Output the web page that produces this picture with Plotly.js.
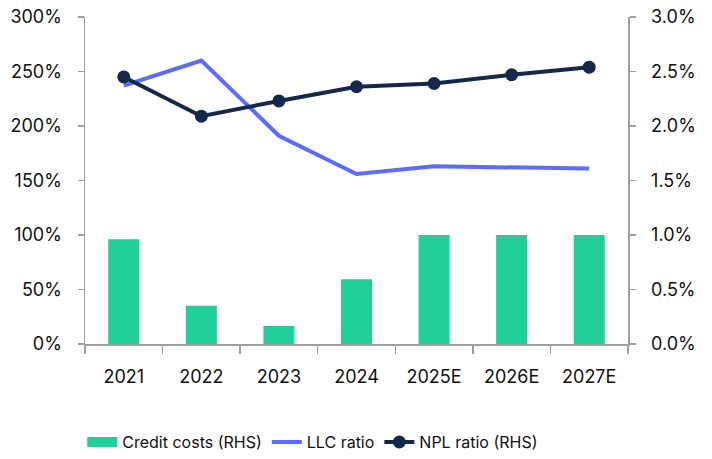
<!DOCTYPE html>
<html>
<head>
<meta charset="utf-8">
<script src="https://cdn.plot.ly/plotly-3.0.1.min.js"></script>
<style>html,body{margin:0;padding:0;background:#fff;}#chart{width:712px;height:459px;}</style>
</head>
<body>
<div id="chart"></div>
<script>
const years = ["2021", "2022", "2023", "2024", "2025E", "2026E", "2027E"];
const creditCosts = [0.96, 0.35, 0.165, 0.595, 1.0, 1.0, 1.0];
const llcRatio = [237, 260, 191, 156, 163, 162, 161];
const nplRatio = [2.45, 2.09, 2.23, 2.36, 2.39, 2.47, 2.54];
const leftTicks = [0, 50, 100, 150, 200, 250, 300];
const rightTicks = [0, 0.5, 1.0, 1.5, 2.0, 2.5, 3.0];

const font = "Inter, Roboto, 'Liberation Sans', sans-serif";
const axisColor = "#a0a0a0";
const barColor = "#22CE99";

const traces = [
  {
    type: "bar", name: "Credit costs (RHS)", x: years, y: creditCosts, yaxis: "y2",
    marker: {color: barColor}, hoverinfo: "skip", showlegend: false
  },
  {
    // legend swatch only (wide rectangle like the reference)
    type: "scatter", mode: "lines", name: "Credit costs (RHS)", x: [null], y: [null], yaxis: "y2",
    line: {color: barColor, width: 13}, showlegend: true
  },
  {
    type: "scatter", mode: "lines", name: "LLC ratio", x: years, y: llcRatio, yaxis: "y",
    line: {color: "#5B6CFF", width: 4}
  },
  {
    type: "scatter", mode: "lines+markers", name: "NPL ratio (RHS)", x: years, y: nplRatio, yaxis: "y2",
    line: {color: "#14284B", width: 4}, marker: {color: "#14284B", size: 13}
  }
];

const layout = {
  width: 712, height: 459,
  margin: {l: 85, r: 84, t: 17, b: 115, autoexpand: false},
  paper_bgcolor: "#fff", plot_bgcolor: "#fff",
  font: {family: font, size: 18, color: "#111"},
  showlegend: true,
  bargap: 0.6,
  xaxis: {
    type: "category", showline: true, linecolor: axisColor, linewidth: 1.5,
    ticks: "outside", tickson: "boundaries", ticklen: 8, tickcolor: axisColor, tickwidth: 1.5,
    ticklabelstandoff: 16, showgrid: false, zeroline: false,
    tickfont: {size: 18, color: "#111"}
  },
  yaxis: {
    range: [0, 300], tickvals: leftTicks, ticktext: leftTicks.map(v => v + "%"),
    showline: true, linecolor: axisColor, linewidth: 1.5,
    ticks: "outside", ticklen: 6, tickcolor: axisColor, tickwidth: 1.5,
    ticklabelstandoff: 12, showgrid: false, zeroline: false,
    tickfont: {size: 18, color: "#111"}
  },
  yaxis2: {
    range: [0, 3.0], overlaying: "y", side: "right",
    tickvals: rightTicks, ticktext: rightTicks.map(v => v.toFixed(1) + "%"),
    showline: true, linecolor: axisColor, linewidth: 1.5,
    ticks: "outside", ticklen: 6, tickcolor: axisColor, tickwidth: 1.5,
    ticklabelstandoff: 12, showgrid: false, zeroline: false,
    tickfont: {size: 18, color: "#111"}
  },
  legend: {
    orientation: "h", x: -0.005, xanchor: "left", y: -0.3, yanchor: "middle",
    font: {size: 16, color: "#111"}, traceorder: "normal"
  }
};

Plotly.newPlot("chart", traces, layout, {displayModeBar: false, staticPlot: true});
</script>
</body>
</html>
